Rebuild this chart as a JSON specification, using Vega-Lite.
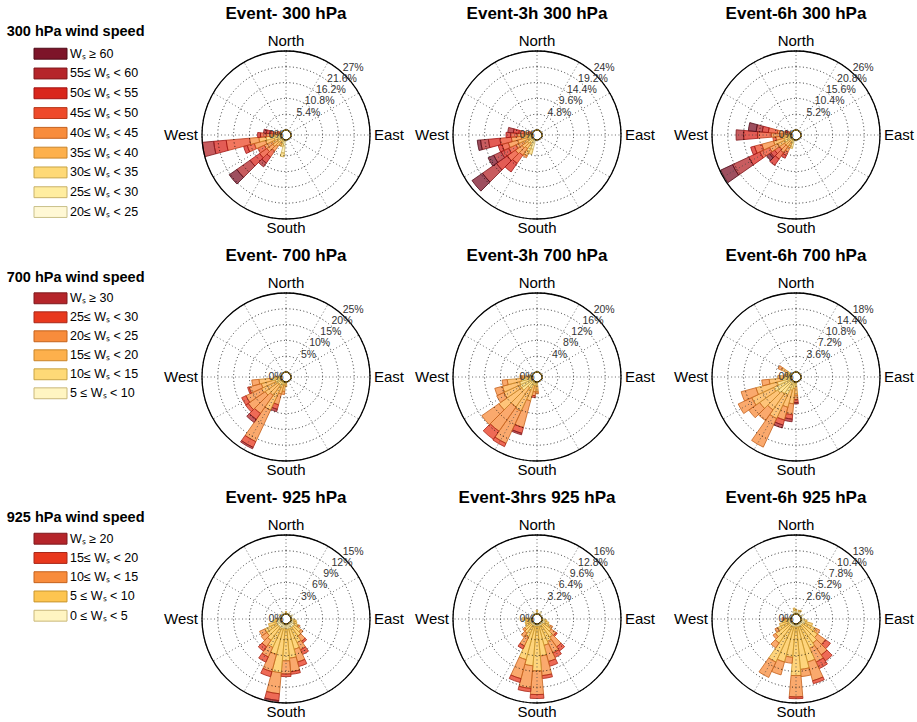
{
"$schema": "https://vega.github.io/schema/vega-lite/v6.json",
"padding": {"left": 0, "top": 5, "right": 0, "bottom": 0},
"config": {"view": {"stroke": null}, "font": "Liberation Sans", "title": {"fontSize": 17, "fontWeight": "bold", "color": "#000"}, "text": {"fill": "#000"}},
"datasets": {
"bars": [
{"p":1,"d":190,"a1":2,"a2":2.5,"a3":1.3},
{"p":1,"d":200,"a1":0.5,"a2":1,"a3":1},
{"p":1,"d":210,"a2":0.5,"a3":1,"a4":1},
{"p":1,"d":220,"a3":1,"a4":2,"a5":2,"a6":2.5,"a7":2.5,"a8":1.6},
{"p":1,"d":230,"a1":0.3,"a2":0.5,"a3":1,"a4":2,"a5":2.5,"a6":3,"a7":4,"a8":5.5,"a9":3.2},
{"p":1,"d":240,"a2":0.5,"a3":1,"a4":2,"a5":3,"a6":2.5},
{"p":1,"d":250,"a1":0.3,"a2":0.7,"a3":1.5,"a4":3,"a5":4,"a6":2.5,"a7":1.3},
{"p":1,"d":260,"a1":0.5,"a2":1.5,"a3":3.1,"a4":2.5,"a5":3.2,"a6":8,"a7":4.3,"a8":3.9},
{"p":1,"d":270,"a3":1,"a4":2,"a5":2,"a6":2,"a7":1},
{"p":1,"d":280,"a4":1,"a5":1,"a6":1.5,"a7":1.5,"a8":1},
{"p":1,"d":290,"a5":0.5,"a6":1},
{"p":2,"d":200,"a1":1,"a2":2,"a3":1.6},
{"p":2,"d":210,"a1":0.5,"a2":1.5,"a3":2,"a4":1.5,"a5":0.6},
{"p":2,"d":220,"a2":0.5,"a3":1,"a4":2,"a5":2.5,"a6":3,"a7":3.2},
{"p":2,"d":230,"a1":0.3,"a2":0.5,"a3":1.2,"a4":2,"a5":2.5,"a6":3,"a7":4,"a8":5.2,"a9":3.9},
{"p":2,"d":240,"a3":1,"a4":2,"a5":2.5,"a6":2.5,"a7":2.5,"a8":2.5,"a9":1.9},
{"p":2,"d":250,"a3":1.5,"a4":3,"a5":3,"a6":2,"a7":1.2},
{"p":2,"d":260,"a2":0.3,"a3":1,"a4":2,"a5":3,"a6":3.5,"a7":3.5,"a8":2.4,"a9":1},
{"p":2,"d":270,"a3":1,"a4":1.5,"a5":2,"a6":2,"a7":1.4},
{"p":2,"d":280,"a4":1,"a5":1.5,"a6":1.5,"a7":1.7,"a8":1.7},
{"p":2,"d":290,"a5":0.5,"a6":0.8},
{"p":3,"d":200,"a1":1,"a2":1.5,"a3":0.5},
{"p":3,"d":210,"a2":0.5,"a3":1,"a4":1.5,"a5":1.5,"a6":1.3,"a7":1},
{"p":3,"d":220,"a3":1,"a4":2,"a5":2.5,"a6":2.5,"a7":2.6},
{"p":3,"d":230,"a3":1,"a4":2,"a5":2,"a6":2,"a7":1.5,"a8":0.5,"a9":1.2},
{"p":3,"d":240,"a1":0.3,"a2":0.7,"a3":1.5,"a4":2.5,"a5":3,"a6":3.5,"a7":4,"a8":5.9,"a9":4.3},
{"p":3,"d":250,"a2":0.5,"a3":2,"a4":3.5,"a5":4,"a6":2.5,"a7":1.3},
{"p":3,"d":260,"a3":1,"a4":2,"a5":2,"a6":1},
{"p":3,"d":270,"a3":1,"a4":2,"a5":3.5,"a6":4.5,"a7":4.6,"a8":2.5},
{"p":3,"d":280,"a4":1.5,"a5":3,"a6":3,"a7":2,"a8":2,"a9":2.6},
{"p":3,"d":290,"a5":0.5,"a6":1,"a7":0.5},
{"p":4,"d":180,"b2":0.5,"b3":1},
{"p":4,"d":190,"b2":1,"b3":2,"b4":1},
{"p":4,"d":200,"b2":1,"b3":3,"b4":3.5,"b5":1.5,"b6":0.8},
{"p":4,"d":210,"b2":2,"b3":8,"b4":11,"b5":2,"b6":0.5},
{"p":4,"d":220,"b2":1.5,"b3":4,"b4":7,"b5":2.3,"b6":1.2},
{"p":4,"d":230,"b2":1.5,"b3":5,"b4":6.5,"b5":1},
{"p":4,"d":240,"b2":2,"b3":5,"b4":5.4,"b5":1.5},
{"p":4,"d":250,"b2":2,"b3":4.5,"b4":4,"b5":0.5},
{"p":4,"d":260,"b1":0.5,"b2":2.5,"b3":4,"b4":2.3},
{"p":4,"d":270,"b1":0.5,"b2":1,"b3":0.5},
{"p":5,"d":180,"b2":1,"b3":1.5,"b4":0.5},
{"p":5,"d":190,"b2":1,"b3":1.5,"b4":1,"b5":0.5},
{"p":5,"d":200,"b2":1,"b3":4,"b4":7,"b5":1.5,"b6":0.4},
{"p":5,"d":210,"b1":0.3,"b2":2,"b3":6,"b4":9,"b5":0.9},
{"p":5,"d":220,"b2":2,"b3":6,"b4":7.5,"b5":2.5},
{"p":5,"d":230,"b1":0.5,"b2":3,"b3":7,"b4":5.3},
{"p":5,"d":240,"b1":0.5,"b2":3,"b3":4.5,"b4":2},
{"p":5,"d":250,"b1":0.3,"b2":3,"b3":4.5,"b4":2},
{"p":5,"d":260,"b1":0.3,"b2":2.5,"b3":3.5,"b4":1.3},
{"p":5,"d":270,"b2":1,"b3":1.5,"b4":0.5},
{"p":5,"d":280,"b2":0.5,"b3":0.5},
{"p":6,"d":180,"b2":1,"b3":2,"b4":1,"b5":0.7,"b6":0.3},
{"p":6,"d":190,"b2":1.5,"b3":3.5,"b4":2.5,"b5":1,"b6":0.6},
{"p":6,"d":200,"b2":2,"b3":4,"b4":3,"b5":1.2,"b6":0.7},
{"p":6,"d":210,"b1":0.3,"b2":3,"b3":6,"b4":7.2},
{"p":6,"d":220,"b1":0.5,"b2":3,"b3":4.5,"b4":3},
{"p":6,"d":230,"b1":0.5,"b2":3.5,"b3":5,"b4":3},
{"p":6,"d":240,"b1":0.5,"b2":4,"b3":5.5,"b4":3.4},
{"p":6,"d":250,"b1":0.3,"b2":3,"b3":5,"b4":3.5},
{"p":6,"d":260,"b2":2,"b3":3,"b4":1.7},
{"p":6,"d":270,"b2":1.5,"b3":1.5},
{"p":6,"d":280,"b2":1,"b3":0.5},
{"p":6,"d":290,"b2":0.8,"b3":0.5},
{"p":6,"d":300,"b2":1,"b3":1.5,"b4":0.9},
{"p":7,"d":0,"c1":0.3,"c2":0.2},
{"p":7,"d":30,"c1":0.4},
{"p":7,"d":60,"c1":0.5},
{"p":7,"d":90,"c1":0.6},
{"p":7,"d":100,"c1":0.5,"c2":0.5},
{"p":7,"d":110,"c1":0.6,"c2":0.6},
{"p":7,"d":120,"c1":0.7,"c2":1,"c3":0.3},
{"p":7,"d":130,"c1":1,"c2":1.5,"c3":0.5},
{"p":7,"d":140,"c1":1,"c2":2,"c3":1.2,"c4":0.4},
{"p":7,"d":150,"c1":1,"c2":3,"c3":1.5,"c4":1},
{"p":7,"d":160,"c1":1,"c2":4,"c3":2.5,"c4":0.9},
{"p":7,"d":170,"c1":1,"c2":5.5,"c3":2.6,"c4":0.5},
{"p":7,"d":180,"c1":1,"c2":6,"c3":2.5,"c4":0.5},
{"p":7,"d":190,"c1":0.8,"c2":8.5,"c3":4,"c4":1.3,"c5":0.2},
{"p":7,"d":200,"c1":1,"c2":5,"c3":3.4,"c4":1},
{"p":7,"d":210,"c1":1,"c2":4,"c3":2,"c4":1.1},
{"p":7,"d":220,"c1":1,"c2":3,"c3":1.5,"c4":1},
{"p":7,"d":230,"c1":1,"c2":2.5,"c3":1.3},
{"p":7,"d":240,"c1":1,"c2":2.5,"c3":1.1},
{"p":7,"d":250,"c1":1,"c2":1.5},
{"p":7,"d":260,"c1":0.8,"c2":0.7},
{"p":7,"d":270,"c1":0.6,"c2":0.4},
{"p":7,"d":300,"c1":0.6},
{"p":7,"d":330,"c1":0.5},
{"p":8,"d":0,"c1":0.5,"c2":0.3},
{"p":8,"d":30,"c1":0.6},
{"p":8,"d":90,"c1":0.5},
{"p":8,"d":100,"c1":0.5,"c2":0.5},
{"p":8,"d":110,"c1":0.7,"c2":0.8},
{"p":8,"d":120,"c1":0.8,"c2":1.2,"c3":0.5},
{"p":8,"d":130,"c1":0.5,"c2":2,"c3":1.2,"c4":0.3},
{"p":8,"d":140,"c1":0.5,"c2":3,"c3":2.4,"c4":1},
{"p":8,"d":150,"c1":0.5,"c2":3.5,"c3":2.6,"c4":1},
{"p":8,"d":160,"c1":0.5,"c2":4,"c3":3.4,"c4":1},
{"p":8,"d":170,"c1":0.5,"c2":6,"c3":4,"c4":0.6},
{"p":8,"d":180,"c1":0.5,"c2":9,"c3":4.8,"c4":0.8},
{"p":8,"d":190,"c1":0.5,"c2":8,"c3":4.6,"c4":0.7},
{"p":8,"d":200,"c1":0.5,"c2":7,"c3":4,"c4":0.8},
{"p":8,"d":210,"c1":0.5,"c2":2.5,"c3":2,"c4":0.7},
{"p":8,"d":220,"c1":0.5,"c2":2,"c3":1},
{"p":8,"d":230,"c1":0.5,"c2":1.5,"c3":0.5},
{"p":8,"d":240,"c1":0.5,"c2":1},
{"p":8,"d":250,"c1":0.5,"c2":1},
{"p":8,"d":260,"c1":0.5,"c2":0.8},
{"p":8,"d":270,"c1":0.5,"c2":1.5},
{"p":8,"d":330,"c1":0.5},
{"p":9,"d":0,"c1":0.5,"c2":0.3},
{"p":9,"d":20,"c1":0.5,"c2":0.2},
{"p":9,"d":30,"c1":0.6,"c2":0.2},
{"p":9,"d":60,"c1":0.5},
{"p":9,"d":90,"c1":0.5},
{"p":9,"d":100,"c1":0.6,"c2":0.4},
{"p":9,"d":110,"c1":0.8,"c2":1.2},
{"p":9,"d":120,"c1":0.8,"c2":2,"c3":0.7},
{"p":9,"d":130,"c1":0.5,"c2":3,"c3":1.6,"c4":1},
{"p":9,"d":140,"c1":0.5,"c2":3.5,"c3":2.4,"c4":1.2},
{"p":9,"d":150,"c1":0.5,"c2":4,"c3":2.5,"c4":1.2},
{"p":9,"d":160,"c1":0.5,"c2":6,"c3":3.2,"c4":0.5},
{"p":9,"d":170,"c1":0.5,"c2":7,"c3":1.2},
{"p":9,"d":180,"c1":0.5,"c2":8,"c3":3.5,"c4":0.3},
{"p":9,"d":190,"c1":0.5,"c2":5,"c3":1},
{"p":9,"d":200,"c1":0.5,"c2":6,"c3":2.2},
{"p":9,"d":210,"c1":0.5,"c2":6.5,"c3":2.8},
{"p":9,"d":220,"c1":0.5,"c2":3.5,"c3":1},
{"p":9,"d":230,"c1":0.5,"c2":2.8,"c3":0.5},
{"p":9,"d":240,"c1":0.5,"c2":2,"c3":0.5},
{"p":9,"d":250,"c1":0.5,"c2":1.5},
{"p":9,"d":260,"c1":0.5,"c2":1},
{"p":9,"d":270,"c1":0.3,"c2":0.7,"c3":0.5},
{"p":9,"d":340,"c1":0.5},
{"p":9,"d":350,"c1":0.6,"c2":0.4}
],
"grid": [
{"p":1,"v":5.4,"t":"5.4%"},{"p":1,"v":10.8,"t":"10.8%"},{"p":1,"v":16.2,"t":"16.2%"},{"p":1,"v":21.6,"t":"21.6%"},{"p":1,"v":27,"t":"27%"},
{"p":2,"v":4.8,"t":"4.8%"},{"p":2,"v":9.6,"t":"9.6%"},{"p":2,"v":14.4,"t":"14.4%"},{"p":2,"v":19.2,"t":"19.2%"},{"p":2,"v":24,"t":"24%"},
{"p":3,"v":5.2,"t":"5.2%"},{"p":3,"v":10.4,"t":"10.4%"},{"p":3,"v":15.6,"t":"15.6%"},{"p":3,"v":20.8,"t":"20.8%"},{"p":3,"v":26,"t":"26%"},
{"p":4,"v":5,"t":"5%"},{"p":4,"v":10,"t":"10%"},{"p":4,"v":15,"t":"15%"},{"p":4,"v":20,"t":"20%"},{"p":4,"v":25,"t":"25%"},
{"p":5,"v":4,"t":"4%"},{"p":5,"v":8,"t":"8%"},{"p":5,"v":12,"t":"12%"},{"p":5,"v":16,"t":"16%"},{"p":5,"v":20,"t":"20%"},
{"p":6,"v":3.6,"t":"3.6%"},{"p":6,"v":7.2,"t":"7.2%"},{"p":6,"v":10.8,"t":"10.8%"},{"p":6,"v":14.4,"t":"14.4%"},{"p":6,"v":18,"t":"18%"},
{"p":7,"v":3,"t":"3%"},{"p":7,"v":6,"t":"6%"},{"p":7,"v":9,"t":"9%"},{"p":7,"v":12,"t":"12%"},{"p":7,"v":15,"t":"15%"},
{"p":8,"v":3.2,"t":"3.2%"},{"p":8,"v":6.4,"t":"6.4%"},{"p":8,"v":9.6,"t":"9.6%"},{"p":8,"v":12.8,"t":"12.8%"},{"p":8,"v":16,"t":"16%"},
{"p":9,"v":2.6,"t":"2.6%"},{"p":9,"v":5.2,"t":"5.2%"},{"p":9,"v":7.8,"t":"7.8%"},{"p":9,"v":10.4,"t":"10.4%"},{"p":9,"v":13,"t":"13%"}
],
"spokes": [{"g":0},{"g":60},{"g":120},{"g":180},{"g":240},{"g":300}],
"compass": [{"n":"North","d":0},{"n":"East","d":90},{"n":"South","d":180},{"n":"West","d":270}],
"leg": [
{"l":300,"k":"a9","t":"Wₛ ≥ 60"},{"l":300,"k":"a8","t":"55≤ Wₛ < 60"},{"l":300,"k":"a7","t":"50≤ Wₛ < 55"},{"l":300,"k":"a6","t":"45≤ Wₛ < 50"},{"l":300,"k":"a5","t":"40≤ Wₛ < 45"},{"l":300,"k":"a4","t":"35≤ Wₛ < 40"},{"l":300,"k":"a3","t":"30≤ Wₛ < 35"},{"l":300,"k":"a2","t":"25≤ Wₛ < 30"},{"l":300,"k":"a1","t":"20≤ Wₛ < 25"},
{"l":700,"k":"b6","t":"Wₛ ≥ 30"},{"l":700,"k":"b5","t":"25≤ Wₛ < 30"},{"l":700,"k":"b4","t":"20≤ Wₛ < 25"},{"l":700,"k":"b3","t":"15≤ Wₛ < 20"},{"l":700,"k":"b2","t":"10≤ Wₛ < 15"},{"l":700,"k":"b1","t":"5 ≤ Wₛ < 10"},
{"l":925,"k":"c5","t":"Wₛ ≥ 20"},{"l":925,"k":"c4","t":"15≤ Wₛ < 20"},{"l":925,"k":"c3","t":"10≤ Wₛ < 15"},{"l":925,"k":"c2","t":"5 ≤ Wₛ < 10"},{"l":925,"k":"c1","t":"0 ≤ Wₛ < 5"}
]
},
"columns": 4,
"spacing": {"row": 74, "column": 83},
"bounds": "flush",
"concat": [
{"width": 119, "height": 168,
 "title": {"text": "300 hPa wind speed", "anchor": "start", "dx": 6.7, "fontSize": 14.5, "offset": 7},
 "data": {"name": "leg"}, "transform": [{"filter": "datum.l == 300"}],
 "encoding": {"y": {"field": "k", "type": "ordinal", "sort": "descending", "scale": {"type": "point", "range": [2.7, 161], "padding": 0}, "axis": null}},
 "layer": [
  {"mark": {"type": "point", "shape": "M-1,-0.33H1V0.33H-1Z", "size": 1089, "filled": true, "opacity": 1, "strokeWidth": 1},
   "encoding": {"x": {"value": 50.5},
    "fill": {"field": "k", "type": "nominal", "legend": null, "scale": {"domain": ["a1","a2","a3","a4","a5","a6","a7","a8","a9","b1","b2","b3","b4","b5","b6","c1","c2","c3","c4","c5"], "range": ["#fff8d5","#ffeda0","#fed977","#fdb04c","#f88c3c","#ee4a2a","#d9261c","#b5252a","#7d1429","#fff5c2","#fed977","#fdb04c","#f88c3c","#e8381d","#b5252a","#fff5c2","#fdc550","#f88c3c","#e8381d","#b5252a"]}},
    "stroke": {"field": "k", "type": "nominal", "legend": null, "scale": {"domain": ["a1","a2","a3","a4","a5","a6","a7","a8","a9","b1","b2","b3","b4","b5","b6","c1","c2","c3","c4","c5"], "range": ["#c9c08a","#c9b26a","#c8a445","#c8852a","#c4621e","#b83a1c","#a01414","#7e1a1e","#4e0c18","#c9b87a","#c8a445","#c8852a","#c4621e","#a8281a","#7e1a1e","#c9b87a","#c8952e","#c4621e","#a8281a","#7e1a1e"]}}}},
  {"mark": {"type": "text", "align": "left", "baseline": "middle", "fontSize": 12.5, "fill": "#000"},
   "encoding": {"x": {"value": 70}, "text": {"field": "t"}}}
 ]},
{"width": 168, "height": 168, "title": {"text": "Event- 300 hPa", "frame": "group", "offset": 11},
 "layer": [
  {"data": {"name": "bars"}, "transform": [{"filter": "datum.p == 1"}, {"fold": ["a1","a2","a3","a4","a5","a6","a7","a8","a9"], "as": ["k","f"]}, {"filter": "datum.f > 0"}, {"bin": {"extent": [-5,355], "step": 10, "nice": false}, "field": "d", "as": ["d0","d1"]}, {"stack": "f", "groupby": ["d"], "sort": [{"field": "k", "order": "ascending"}], "as": ["r0","r1"]}],
   "mark": {"type": "arc", "fillOpacity": 0.75, "strokeWidth": 0.8},
   "encoding": {"theta": {"field": "d0", "type": "quantitative", "stack": null, "scale": {"domain": [0,360], "range": [0,6.283185307179586]}}, "theta2": {"field": "d1"},
    "radius": {"field": "r1", "type": "quantitative", "stack": null, "scale": {"type": "linear", "domain": [0,27], "range": [5,84], "zero": false, "nice": false}}, "radius2": {"field": "r0"},
    "fill": {"field": "k", "type": "nominal", "legend": null, "scale": {"domain": ["a1","a2","a3","a4","a5","a6","a7","a8","a9","b1","b2","b3","b4","b5","b6","c1","c2","c3","c4","c5"], "range": ["#fff8d5","#ffeda0","#fed977","#fdb04c","#f88c3c","#ee4a2a","#d9261c","#b5252a","#7d1429","#fff5c2","#fed977","#fdb04c","#f88c3c","#e8381d","#b5252a","#fff5c2","#fdc550","#f88c3c","#e8381d","#b5252a"]}},
    "stroke": {"field": "k", "type": "nominal", "legend": null, "scale": {"domain": ["a1","a2","a3","a4","a5","a6","a7","a8","a9","b1","b2","b3","b4","b5","b6","c1","c2","c3","c4","c5"], "range": ["#c9c08a","#c9b26a","#c8a445","#c8852a","#c4621e","#b83a1c","#a01414","#7e1a1e","#4e0c18","#c9b87a","#c8a445","#c8852a","#c4621e","#a8281a","#7e1a1e","#c9b87a","#c8952e","#c4621e","#a8281a","#7e1a1e"]}}}},
  {"data": {"name": "spokes"}, "transform": [{"bin": {"extent": [0,360], "step": 30, "nice": false}, "field": "g", "as": ["g0","g1"]}],
   "mark": {"type": "arc", "filled": false, "stroke": "#444", "strokeWidth": 0.8, "strokeDash": [1,2.5]},
   "encoding": {"theta": {"field": "g0", "type": "quantitative", "stack": null}, "theta2": {"field": "g1"}, "radius": {"datum": 27, "type": "quantitative"}, "radius2": {"datum": 0}}},
  {"data": {"name": "grid"}, "transform": [{"filter": "datum.p == 1"}],
   "mark": {"type": "arc", "filled": false, "stroke": "#000", "strokeWidth": 0.8, "strokeDash": [1,2.5]},
   "encoding": {"theta": {"datum": 0, "type": "quantitative"}, "theta2": {"datum": 360}, "radius": {"field": "v", "type": "quantitative", "stack": null}}},
  {"data": {"values": [{}]}, "mark": {"type": "arc", "filled": false, "stroke": "#000", "strokeWidth": 1.3},
   "encoding": {"theta": {"datum": 0, "type": "quantitative"}, "theta2": {"datum": 360}, "radius": {"datum": 27, "type": "quantitative"}}},
  {"data": {"values": [{}]}, "mark": {"type": "arc", "fill": "#fff", "stroke": "#a7801e", "strokeWidth": 1, "strokeDash": [2,1.5]},
   "encoding": {"theta": {"datum": 0, "type": "quantitative"}, "theta2": {"datum": 360}, "radius": {"datum": 0, "type": "quantitative"}}},
  {"data": {"name": "grid"}, "transform": [{"filter": "datum.p == 1"}], "mark": {"type": "text", "radiusOffset": 11, "fontSize": 10.5, "fill": "#333"},
   "encoding": {"theta": {"datum": 45, "type": "quantitative"}, "radius": {"field": "v", "type": "quantitative", "stack": null}, "text": {"field": "t"}}},
  {"data": {"values": [{}]}, "mark": {"type": "text", "radiusOffset": 5, "fontSize": 10.5, "fill": "#333"},
   "encoding": {"theta": {"datum": 270, "type": "quantitative"}, "radius": {"datum": 0, "type": "quantitative"}, "text": {"value": "0%"}}},
  {"data": {"name": "compass"}, "transform": [{"filter": "datum.d == 0"}], "mark": {"type": "text", "radiusOffset": 10, "fontSize": 15, "fill": "#000"},
   "encoding": {"theta": {"field": "d", "type": "quantitative", "stack": null}, "radius": {"datum": 27, "type": "quantitative"}, "text": {"field": "n"}}},
  {"data": {"name": "compass"}, "transform": [{"filter": "datum.d == 180"}], "mark": {"type": "text", "radiusOffset": 8.5, "fontSize": 15, "fill": "#000"},
   "encoding": {"theta": {"field": "d", "type": "quantitative", "stack": null}, "radius": {"datum": 27, "type": "quantitative"}, "text": {"field": "n"}}},
  {"data": {"name": "compass"}, "transform": [{"filter": "datum.d == 270"}], "mark": {"type": "text", "radiusOffset": 4, "align": "right", "fontSize": 15, "fill": "#000"},
   "encoding": {"theta": {"field": "d", "type": "quantitative", "stack": null}, "radius": {"datum": 27, "type": "quantitative"}, "text": {"field": "n"}}},
  {"data": {"name": "compass"}, "transform": [{"filter": "datum.d == 90"}], "mark": {"type": "text", "radiusOffset": 4, "align": "left", "fontSize": 15, "fill": "#000"},
   "encoding": {"theta": {"field": "d", "type": "quantitative", "stack": null}, "radius": {"datum": 27, "type": "quantitative"}, "text": {"field": "n"}}}
 ]},
{"width": 168, "height": 168, "title": {"text": "Event-3h 300 hPa", "frame": "group", "offset": 11},
 "layer": [
  {"data": {"name": "bars"}, "transform": [{"filter": "datum.p == 2"}, {"fold": ["a1","a2","a3","a4","a5","a6","a7","a8","a9"], "as": ["k","f"]}, {"filter": "datum.f > 0"}, {"bin": {"extent": [-5,355], "step": 10, "nice": false}, "field": "d", "as": ["d0","d1"]}, {"stack": "f", "groupby": ["d"], "sort": [{"field": "k", "order": "ascending"}], "as": ["r0","r1"]}],
   "mark": {"type": "arc", "fillOpacity": 0.75, "strokeWidth": 0.8},
   "encoding": {"theta": {"field": "d0", "type": "quantitative", "stack": null, "scale": {"domain": [0,360], "range": [0,6.283185307179586]}}, "theta2": {"field": "d1"},
    "radius": {"field": "r1", "type": "quantitative", "stack": null, "scale": {"type": "linear", "domain": [0,24], "range": [5,84], "zero": false, "nice": false}}, "radius2": {"field": "r0"},
    "fill": {"field": "k", "type": "nominal", "legend": null, "scale": {"domain": ["a1","a2","a3","a4","a5","a6","a7","a8","a9","b1","b2","b3","b4","b5","b6","c1","c2","c3","c4","c5"], "range": ["#fff8d5","#ffeda0","#fed977","#fdb04c","#f88c3c","#ee4a2a","#d9261c","#b5252a","#7d1429","#fff5c2","#fed977","#fdb04c","#f88c3c","#e8381d","#b5252a","#fff5c2","#fdc550","#f88c3c","#e8381d","#b5252a"]}},
    "stroke": {"field": "k", "type": "nominal", "legend": null, "scale": {"domain": ["a1","a2","a3","a4","a5","a6","a7","a8","a9","b1","b2","b3","b4","b5","b6","c1","c2","c3","c4","c5"], "range": ["#c9c08a","#c9b26a","#c8a445","#c8852a","#c4621e","#b83a1c","#a01414","#7e1a1e","#4e0c18","#c9b87a","#c8a445","#c8852a","#c4621e","#a8281a","#7e1a1e","#c9b87a","#c8952e","#c4621e","#a8281a","#7e1a1e"]}}}},
  {"data": {"name": "spokes"}, "transform": [{"bin": {"extent": [0,360], "step": 30, "nice": false}, "field": "g", "as": ["g0","g1"]}],
   "mark": {"type": "arc", "filled": false, "stroke": "#444", "strokeWidth": 0.8, "strokeDash": [1,2.5]},
   "encoding": {"theta": {"field": "g0", "type": "quantitative", "stack": null}, "theta2": {"field": "g1"}, "radius": {"datum": 24, "type": "quantitative"}, "radius2": {"datum": 0}}},
  {"data": {"name": "grid"}, "transform": [{"filter": "datum.p == 2"}],
   "mark": {"type": "arc", "filled": false, "stroke": "#000", "strokeWidth": 0.8, "strokeDash": [1,2.5]},
   "encoding": {"theta": {"datum": 0, "type": "quantitative"}, "theta2": {"datum": 360}, "radius": {"field": "v", "type": "quantitative", "stack": null}}},
  {"data": {"values": [{}]}, "mark": {"type": "arc", "filled": false, "stroke": "#000", "strokeWidth": 1.3},
   "encoding": {"theta": {"datum": 0, "type": "quantitative"}, "theta2": {"datum": 360}, "radius": {"datum": 24, "type": "quantitative"}}},
  {"data": {"values": [{}]}, "mark": {"type": "arc", "fill": "#fff", "stroke": "#a7801e", "strokeWidth": 1, "strokeDash": [2,1.5]},
   "encoding": {"theta": {"datum": 0, "type": "quantitative"}, "theta2": {"datum": 360}, "radius": {"datum": 0, "type": "quantitative"}}},
  {"data": {"name": "grid"}, "transform": [{"filter": "datum.p == 2"}], "mark": {"type": "text", "radiusOffset": 11, "fontSize": 10.5, "fill": "#333"},
   "encoding": {"theta": {"datum": 45, "type": "quantitative"}, "radius": {"field": "v", "type": "quantitative", "stack": null}, "text": {"field": "t"}}},
  {"data": {"values": [{}]}, "mark": {"type": "text", "radiusOffset": 5, "fontSize": 10.5, "fill": "#333"},
   "encoding": {"theta": {"datum": 270, "type": "quantitative"}, "radius": {"datum": 0, "type": "quantitative"}, "text": {"value": "0%"}}},
  {"data": {"name": "compass"}, "transform": [{"filter": "datum.d == 0"}], "mark": {"type": "text", "radiusOffset": 10, "fontSize": 15, "fill": "#000"},
   "encoding": {"theta": {"field": "d", "type": "quantitative", "stack": null}, "radius": {"datum": 24, "type": "quantitative"}, "text": {"field": "n"}}},
  {"data": {"name": "compass"}, "transform": [{"filter": "datum.d == 180"}], "mark": {"type": "text", "radiusOffset": 8.5, "fontSize": 15, "fill": "#000"},
   "encoding": {"theta": {"field": "d", "type": "quantitative", "stack": null}, "radius": {"datum": 24, "type": "quantitative"}, "text": {"field": "n"}}},
  {"data": {"name": "compass"}, "transform": [{"filter": "datum.d == 270"}], "mark": {"type": "text", "radiusOffset": 4, "align": "right", "fontSize": 15, "fill": "#000"},
   "encoding": {"theta": {"field": "d", "type": "quantitative", "stack": null}, "radius": {"datum": 24, "type": "quantitative"}, "text": {"field": "n"}}},
  {"data": {"name": "compass"}, "transform": [{"filter": "datum.d == 90"}], "mark": {"type": "text", "radiusOffset": 4, "align": "left", "fontSize": 15, "fill": "#000"},
   "encoding": {"theta": {"field": "d", "type": "quantitative", "stack": null}, "radius": {"datum": 24, "type": "quantitative"}, "text": {"field": "n"}}}
 ]},
{"width": 184, "height": 168, "title": {"text": "Event-6h 300 hPa", "frame": "group", "offset": 11},
 "layer": [
  {"data": {"name": "bars"}, "transform": [{"filter": "datum.p == 3"}, {"fold": ["a1","a2","a3","a4","a5","a6","a7","a8","a9"], "as": ["k","f"]}, {"filter": "datum.f > 0"}, {"bin": {"extent": [-5,355], "step": 10, "nice": false}, "field": "d", "as": ["d0","d1"]}, {"stack": "f", "groupby": ["d"], "sort": [{"field": "k", "order": "ascending"}], "as": ["r0","r1"]}],
   "mark": {"type": "arc", "fillOpacity": 0.75, "strokeWidth": 0.8},
   "encoding": {"theta": {"field": "d0", "type": "quantitative", "stack": null, "scale": {"domain": [0,360], "range": [0,6.283185307179586]}}, "theta2": {"field": "d1"},
    "radius": {"field": "r1", "type": "quantitative", "stack": null, "scale": {"type": "linear", "domain": [0,26], "range": [5,84], "zero": false, "nice": false}}, "radius2": {"field": "r0"},
    "fill": {"field": "k", "type": "nominal", "legend": null, "scale": {"domain": ["a1","a2","a3","a4","a5","a6","a7","a8","a9","b1","b2","b3","b4","b5","b6","c1","c2","c3","c4","c5"], "range": ["#fff8d5","#ffeda0","#fed977","#fdb04c","#f88c3c","#ee4a2a","#d9261c","#b5252a","#7d1429","#fff5c2","#fed977","#fdb04c","#f88c3c","#e8381d","#b5252a","#fff5c2","#fdc550","#f88c3c","#e8381d","#b5252a"]}},
    "stroke": {"field": "k", "type": "nominal", "legend": null, "scale": {"domain": ["a1","a2","a3","a4","a5","a6","a7","a8","a9","b1","b2","b3","b4","b5","b6","c1","c2","c3","c4","c5"], "range": ["#c9c08a","#c9b26a","#c8a445","#c8852a","#c4621e","#b83a1c","#a01414","#7e1a1e","#4e0c18","#c9b87a","#c8a445","#c8852a","#c4621e","#a8281a","#7e1a1e","#c9b87a","#c8952e","#c4621e","#a8281a","#7e1a1e"]}}}},
  {"data": {"name": "spokes"}, "transform": [{"bin": {"extent": [0,360], "step": 30, "nice": false}, "field": "g", "as": ["g0","g1"]}],
   "mark": {"type": "arc", "filled": false, "stroke": "#444", "strokeWidth": 0.8, "strokeDash": [1,2.5]},
   "encoding": {"theta": {"field": "g0", "type": "quantitative", "stack": null}, "theta2": {"field": "g1"}, "radius": {"datum": 26, "type": "quantitative"}, "radius2": {"datum": 0}}},
  {"data": {"name": "grid"}, "transform": [{"filter": "datum.p == 3"}],
   "mark": {"type": "arc", "filled": false, "stroke": "#000", "strokeWidth": 0.8, "strokeDash": [1,2.5]},
   "encoding": {"theta": {"datum": 0, "type": "quantitative"}, "theta2": {"datum": 360}, "radius": {"field": "v", "type": "quantitative", "stack": null}}},
  {"data": {"values": [{}]}, "mark": {"type": "arc", "filled": false, "stroke": "#000", "strokeWidth": 1.3},
   "encoding": {"theta": {"datum": 0, "type": "quantitative"}, "theta2": {"datum": 360}, "radius": {"datum": 26, "type": "quantitative"}}},
  {"data": {"values": [{}]}, "mark": {"type": "arc", "fill": "#fff", "stroke": "#a7801e", "strokeWidth": 1, "strokeDash": [2,1.5]},
   "encoding": {"theta": {"datum": 0, "type": "quantitative"}, "theta2": {"datum": 360}, "radius": {"datum": 0, "type": "quantitative"}}},
  {"data": {"name": "grid"}, "transform": [{"filter": "datum.p == 3"}], "mark": {"type": "text", "radiusOffset": 11, "fontSize": 10.5, "fill": "#333"},
   "encoding": {"theta": {"datum": 45, "type": "quantitative"}, "radius": {"field": "v", "type": "quantitative", "stack": null}, "text": {"field": "t"}}},
  {"data": {"values": [{}]}, "mark": {"type": "text", "radiusOffset": 5, "fontSize": 10.5, "fill": "#333"},
   "encoding": {"theta": {"datum": 270, "type": "quantitative"}, "radius": {"datum": 0, "type": "quantitative"}, "text": {"value": "0%"}}},
  {"data": {"name": "compass"}, "transform": [{"filter": "datum.d == 0"}], "mark": {"type": "text", "radiusOffset": 10, "fontSize": 15, "fill": "#000"},
   "encoding": {"theta": {"field": "d", "type": "quantitative", "stack": null}, "radius": {"datum": 26, "type": "quantitative"}, "text": {"field": "n"}}},
  {"data": {"name": "compass"}, "transform": [{"filter": "datum.d == 180"}], "mark": {"type": "text", "radiusOffset": 8.5, "fontSize": 15, "fill": "#000"},
   "encoding": {"theta": {"field": "d", "type": "quantitative", "stack": null}, "radius": {"datum": 26, "type": "quantitative"}, "text": {"field": "n"}}},
  {"data": {"name": "compass"}, "transform": [{"filter": "datum.d == 270"}], "mark": {"type": "text", "radiusOffset": 4, "align": "right", "fontSize": 15, "fill": "#000"},
   "encoding": {"theta": {"field": "d", "type": "quantitative", "stack": null}, "radius": {"datum": 26, "type": "quantitative"}, "text": {"field": "n"}}},
  {"data": {"name": "compass"}, "transform": [{"filter": "datum.d == 90"}], "mark": {"type": "text", "radiusOffset": 4, "align": "left", "fontSize": 15, "fill": "#000"},
   "encoding": {"theta": {"field": "d", "type": "quantitative", "stack": null}, "radius": {"datum": 26, "type": "quantitative"}, "text": {"field": "n"}}}
 ]},
{"width": 119, "height": 168,
 "title": {"text": "700 hPa wind speed", "anchor": "start", "dx": 6.7, "fontSize": 14.5, "offset": 5.75},
 "data": {"name": "leg"}, "transform": [{"filter": "datum.l == 700"}],
 "encoding": {"y": {"field": "k", "type": "ordinal", "sort": "descending", "scale": {"type": "point", "range": [5.3, 100.3], "padding": 0}, "axis": null}},
 "layer": [
  {"mark": {"type": "point", "shape": "M-1,-0.33H1V0.33H-1Z", "size": 1089, "filled": true, "opacity": 1, "strokeWidth": 1},
   "encoding": {"x": {"value": 50.5},
    "fill": {"field": "k", "type": "nominal", "legend": null, "scale": {"domain": ["a1","a2","a3","a4","a5","a6","a7","a8","a9","b1","b2","b3","b4","b5","b6","c1","c2","c3","c4","c5"], "range": ["#fff8d5","#ffeda0","#fed977","#fdb04c","#f88c3c","#ee4a2a","#d9261c","#b5252a","#7d1429","#fff5c2","#fed977","#fdb04c","#f88c3c","#e8381d","#b5252a","#fff5c2","#fdc550","#f88c3c","#e8381d","#b5252a"]}},
    "stroke": {"field": "k", "type": "nominal", "legend": null, "scale": {"domain": ["a1","a2","a3","a4","a5","a6","a7","a8","a9","b1","b2","b3","b4","b5","b6","c1","c2","c3","c4","c5"], "range": ["#c9c08a","#c9b26a","#c8a445","#c8852a","#c4621e","#b83a1c","#a01414","#7e1a1e","#4e0c18","#c9b87a","#c8a445","#c8852a","#c4621e","#a8281a","#7e1a1e","#c9b87a","#c8952e","#c4621e","#a8281a","#7e1a1e"]}}}},
  {"mark": {"type": "text", "align": "left", "baseline": "middle", "fontSize": 12.5, "fill": "#000"},
   "encoding": {"x": {"value": 70}, "text": {"field": "t"}}}
 ]},
{"width": 168, "height": 168, "title": {"text": "Event- 700 hPa", "frame": "group", "offset": 11},
 "layer": [
  {"data": {"name": "bars"}, "transform": [{"filter": "datum.p == 4"}, {"fold": ["b1","b2","b3","b4","b5","b6"], "as": ["k","f"]}, {"filter": "datum.f > 0"}, {"bin": {"extent": [-5,355], "step": 10, "nice": false}, "field": "d", "as": ["d0","d1"]}, {"stack": "f", "groupby": ["d"], "sort": [{"field": "k", "order": "ascending"}], "as": ["r0","r1"]}],
   "mark": {"type": "arc", "fillOpacity": 0.75, "strokeWidth": 0.8},
   "encoding": {"theta": {"field": "d0", "type": "quantitative", "stack": null, "scale": {"domain": [0,360], "range": [0,6.283185307179586]}}, "theta2": {"field": "d1"},
    "radius": {"field": "r1", "type": "quantitative", "stack": null, "scale": {"type": "linear", "domain": [0,25], "range": [5,84], "zero": false, "nice": false}}, "radius2": {"field": "r0"},
    "fill": {"field": "k", "type": "nominal", "legend": null, "scale": {"domain": ["a1","a2","a3","a4","a5","a6","a7","a8","a9","b1","b2","b3","b4","b5","b6","c1","c2","c3","c4","c5"], "range": ["#fff8d5","#ffeda0","#fed977","#fdb04c","#f88c3c","#ee4a2a","#d9261c","#b5252a","#7d1429","#fff5c2","#fed977","#fdb04c","#f88c3c","#e8381d","#b5252a","#fff5c2","#fdc550","#f88c3c","#e8381d","#b5252a"]}},
    "stroke": {"field": "k", "type": "nominal", "legend": null, "scale": {"domain": ["a1","a2","a3","a4","a5","a6","a7","a8","a9","b1","b2","b3","b4","b5","b6","c1","c2","c3","c4","c5"], "range": ["#c9c08a","#c9b26a","#c8a445","#c8852a","#c4621e","#b83a1c","#a01414","#7e1a1e","#4e0c18","#c9b87a","#c8a445","#c8852a","#c4621e","#a8281a","#7e1a1e","#c9b87a","#c8952e","#c4621e","#a8281a","#7e1a1e"]}}}},
  {"data": {"name": "spokes"}, "transform": [{"bin": {"extent": [0,360], "step": 30, "nice": false}, "field": "g", "as": ["g0","g1"]}],
   "mark": {"type": "arc", "filled": false, "stroke": "#444", "strokeWidth": 0.8, "strokeDash": [1,2.5]},
   "encoding": {"theta": {"field": "g0", "type": "quantitative", "stack": null}, "theta2": {"field": "g1"}, "radius": {"datum": 25, "type": "quantitative"}, "radius2": {"datum": 0}}},
  {"data": {"name": "grid"}, "transform": [{"filter": "datum.p == 4"}],
   "mark": {"type": "arc", "filled": false, "stroke": "#000", "strokeWidth": 0.8, "strokeDash": [1,2.5]},
   "encoding": {"theta": {"datum": 0, "type": "quantitative"}, "theta2": {"datum": 360}, "radius": {"field": "v", "type": "quantitative", "stack": null}}},
  {"data": {"values": [{}]}, "mark": {"type": "arc", "filled": false, "stroke": "#000", "strokeWidth": 1.3},
   "encoding": {"theta": {"datum": 0, "type": "quantitative"}, "theta2": {"datum": 360}, "radius": {"datum": 25, "type": "quantitative"}}},
  {"data": {"values": [{}]}, "mark": {"type": "arc", "fill": "#fff", "stroke": "#a7801e", "strokeWidth": 1, "strokeDash": [2,1.5]},
   "encoding": {"theta": {"datum": 0, "type": "quantitative"}, "theta2": {"datum": 360}, "radius": {"datum": 0, "type": "quantitative"}}},
  {"data": {"name": "grid"}, "transform": [{"filter": "datum.p == 4"}], "mark": {"type": "text", "radiusOffset": 11, "fontSize": 10.5, "fill": "#333"},
   "encoding": {"theta": {"datum": 45, "type": "quantitative"}, "radius": {"field": "v", "type": "quantitative", "stack": null}, "text": {"field": "t"}}},
  {"data": {"values": [{}]}, "mark": {"type": "text", "radiusOffset": 5, "fontSize": 10.5, "fill": "#333"},
   "encoding": {"theta": {"datum": 270, "type": "quantitative"}, "radius": {"datum": 0, "type": "quantitative"}, "text": {"value": "0%"}}},
  {"data": {"name": "compass"}, "transform": [{"filter": "datum.d == 0"}], "mark": {"type": "text", "radiusOffset": 10, "fontSize": 15, "fill": "#000"},
   "encoding": {"theta": {"field": "d", "type": "quantitative", "stack": null}, "radius": {"datum": 25, "type": "quantitative"}, "text": {"field": "n"}}},
  {"data": {"name": "compass"}, "transform": [{"filter": "datum.d == 180"}], "mark": {"type": "text", "radiusOffset": 8.5, "fontSize": 15, "fill": "#000"},
   "encoding": {"theta": {"field": "d", "type": "quantitative", "stack": null}, "radius": {"datum": 25, "type": "quantitative"}, "text": {"field": "n"}}},
  {"data": {"name": "compass"}, "transform": [{"filter": "datum.d == 270"}], "mark": {"type": "text", "radiusOffset": 4, "align": "right", "fontSize": 15, "fill": "#000"},
   "encoding": {"theta": {"field": "d", "type": "quantitative", "stack": null}, "radius": {"datum": 25, "type": "quantitative"}, "text": {"field": "n"}}},
  {"data": {"name": "compass"}, "transform": [{"filter": "datum.d == 90"}], "mark": {"type": "text", "radiusOffset": 4, "align": "left", "fontSize": 15, "fill": "#000"},
   "encoding": {"theta": {"field": "d", "type": "quantitative", "stack": null}, "radius": {"datum": 25, "type": "quantitative"}, "text": {"field": "n"}}}
 ]},
{"width": 168, "height": 168, "title": {"text": "Event-3h 700 hPa", "frame": "group", "offset": 11},
 "layer": [
  {"data": {"name": "bars"}, "transform": [{"filter": "datum.p == 5"}, {"fold": ["b1","b2","b3","b4","b5","b6"], "as": ["k","f"]}, {"filter": "datum.f > 0"}, {"bin": {"extent": [-5,355], "step": 10, "nice": false}, "field": "d", "as": ["d0","d1"]}, {"stack": "f", "groupby": ["d"], "sort": [{"field": "k", "order": "ascending"}], "as": ["r0","r1"]}],
   "mark": {"type": "arc", "fillOpacity": 0.75, "strokeWidth": 0.8},
   "encoding": {"theta": {"field": "d0", "type": "quantitative", "stack": null, "scale": {"domain": [0,360], "range": [0,6.283185307179586]}}, "theta2": {"field": "d1"},
    "radius": {"field": "r1", "type": "quantitative", "stack": null, "scale": {"type": "linear", "domain": [0,20], "range": [5,84], "zero": false, "nice": false}}, "radius2": {"field": "r0"},
    "fill": {"field": "k", "type": "nominal", "legend": null, "scale": {"domain": ["a1","a2","a3","a4","a5","a6","a7","a8","a9","b1","b2","b3","b4","b5","b6","c1","c2","c3","c4","c5"], "range": ["#fff8d5","#ffeda0","#fed977","#fdb04c","#f88c3c","#ee4a2a","#d9261c","#b5252a","#7d1429","#fff5c2","#fed977","#fdb04c","#f88c3c","#e8381d","#b5252a","#fff5c2","#fdc550","#f88c3c","#e8381d","#b5252a"]}},
    "stroke": {"field": "k", "type": "nominal", "legend": null, "scale": {"domain": ["a1","a2","a3","a4","a5","a6","a7","a8","a9","b1","b2","b3","b4","b5","b6","c1","c2","c3","c4","c5"], "range": ["#c9c08a","#c9b26a","#c8a445","#c8852a","#c4621e","#b83a1c","#a01414","#7e1a1e","#4e0c18","#c9b87a","#c8a445","#c8852a","#c4621e","#a8281a","#7e1a1e","#c9b87a","#c8952e","#c4621e","#a8281a","#7e1a1e"]}}}},
  {"data": {"name": "spokes"}, "transform": [{"bin": {"extent": [0,360], "step": 30, "nice": false}, "field": "g", "as": ["g0","g1"]}],
   "mark": {"type": "arc", "filled": false, "stroke": "#444", "strokeWidth": 0.8, "strokeDash": [1,2.5]},
   "encoding": {"theta": {"field": "g0", "type": "quantitative", "stack": null}, "theta2": {"field": "g1"}, "radius": {"datum": 20, "type": "quantitative"}, "radius2": {"datum": 0}}},
  {"data": {"name": "grid"}, "transform": [{"filter": "datum.p == 5"}],
   "mark": {"type": "arc", "filled": false, "stroke": "#000", "strokeWidth": 0.8, "strokeDash": [1,2.5]},
   "encoding": {"theta": {"datum": 0, "type": "quantitative"}, "theta2": {"datum": 360}, "radius": {"field": "v", "type": "quantitative", "stack": null}}},
  {"data": {"values": [{}]}, "mark": {"type": "arc", "filled": false, "stroke": "#000", "strokeWidth": 1.3},
   "encoding": {"theta": {"datum": 0, "type": "quantitative"}, "theta2": {"datum": 360}, "radius": {"datum": 20, "type": "quantitative"}}},
  {"data": {"values": [{}]}, "mark": {"type": "arc", "fill": "#fff", "stroke": "#a7801e", "strokeWidth": 1, "strokeDash": [2,1.5]},
   "encoding": {"theta": {"datum": 0, "type": "quantitative"}, "theta2": {"datum": 360}, "radius": {"datum": 0, "type": "quantitative"}}},
  {"data": {"name": "grid"}, "transform": [{"filter": "datum.p == 5"}], "mark": {"type": "text", "radiusOffset": 11, "fontSize": 10.5, "fill": "#333"},
   "encoding": {"theta": {"datum": 45, "type": "quantitative"}, "radius": {"field": "v", "type": "quantitative", "stack": null}, "text": {"field": "t"}}},
  {"data": {"values": [{}]}, "mark": {"type": "text", "radiusOffset": 5, "fontSize": 10.5, "fill": "#333"},
   "encoding": {"theta": {"datum": 270, "type": "quantitative"}, "radius": {"datum": 0, "type": "quantitative"}, "text": {"value": "0%"}}},
  {"data": {"name": "compass"}, "transform": [{"filter": "datum.d == 0"}], "mark": {"type": "text", "radiusOffset": 10, "fontSize": 15, "fill": "#000"},
   "encoding": {"theta": {"field": "d", "type": "quantitative", "stack": null}, "radius": {"datum": 20, "type": "quantitative"}, "text": {"field": "n"}}},
  {"data": {"name": "compass"}, "transform": [{"filter": "datum.d == 180"}], "mark": {"type": "text", "radiusOffset": 8.5, "fontSize": 15, "fill": "#000"},
   "encoding": {"theta": {"field": "d", "type": "quantitative", "stack": null}, "radius": {"datum": 20, "type": "quantitative"}, "text": {"field": "n"}}},
  {"data": {"name": "compass"}, "transform": [{"filter": "datum.d == 270"}], "mark": {"type": "text", "radiusOffset": 4, "align": "right", "fontSize": 15, "fill": "#000"},
   "encoding": {"theta": {"field": "d", "type": "quantitative", "stack": null}, "radius": {"datum": 20, "type": "quantitative"}, "text": {"field": "n"}}},
  {"data": {"name": "compass"}, "transform": [{"filter": "datum.d == 90"}], "mark": {"type": "text", "radiusOffset": 4, "align": "left", "fontSize": 15, "fill": "#000"},
   "encoding": {"theta": {"field": "d", "type": "quantitative", "stack": null}, "radius": {"datum": 20, "type": "quantitative"}, "text": {"field": "n"}}}
 ]},
{"width": 184, "height": 168, "title": {"text": "Event-6h 700 hPa", "frame": "group", "offset": 11},
 "layer": [
  {"data": {"name": "bars"}, "transform": [{"filter": "datum.p == 6"}, {"fold": ["b1","b2","b3","b4","b5","b6"], "as": ["k","f"]}, {"filter": "datum.f > 0"}, {"bin": {"extent": [-5,355], "step": 10, "nice": false}, "field": "d", "as": ["d0","d1"]}, {"stack": "f", "groupby": ["d"], "sort": [{"field": "k", "order": "ascending"}], "as": ["r0","r1"]}],
   "mark": {"type": "arc", "fillOpacity": 0.75, "strokeWidth": 0.8},
   "encoding": {"theta": {"field": "d0", "type": "quantitative", "stack": null, "scale": {"domain": [0,360], "range": [0,6.283185307179586]}}, "theta2": {"field": "d1"},
    "radius": {"field": "r1", "type": "quantitative", "stack": null, "scale": {"type": "linear", "domain": [0,18], "range": [5,84], "zero": false, "nice": false}}, "radius2": {"field": "r0"},
    "fill": {"field": "k", "type": "nominal", "legend": null, "scale": {"domain": ["a1","a2","a3","a4","a5","a6","a7","a8","a9","b1","b2","b3","b4","b5","b6","c1","c2","c3","c4","c5"], "range": ["#fff8d5","#ffeda0","#fed977","#fdb04c","#f88c3c","#ee4a2a","#d9261c","#b5252a","#7d1429","#fff5c2","#fed977","#fdb04c","#f88c3c","#e8381d","#b5252a","#fff5c2","#fdc550","#f88c3c","#e8381d","#b5252a"]}},
    "stroke": {"field": "k", "type": "nominal", "legend": null, "scale": {"domain": ["a1","a2","a3","a4","a5","a6","a7","a8","a9","b1","b2","b3","b4","b5","b6","c1","c2","c3","c4","c5"], "range": ["#c9c08a","#c9b26a","#c8a445","#c8852a","#c4621e","#b83a1c","#a01414","#7e1a1e","#4e0c18","#c9b87a","#c8a445","#c8852a","#c4621e","#a8281a","#7e1a1e","#c9b87a","#c8952e","#c4621e","#a8281a","#7e1a1e"]}}}},
  {"data": {"name": "spokes"}, "transform": [{"bin": {"extent": [0,360], "step": 30, "nice": false}, "field": "g", "as": ["g0","g1"]}],
   "mark": {"type": "arc", "filled": false, "stroke": "#444", "strokeWidth": 0.8, "strokeDash": [1,2.5]},
   "encoding": {"theta": {"field": "g0", "type": "quantitative", "stack": null}, "theta2": {"field": "g1"}, "radius": {"datum": 18, "type": "quantitative"}, "radius2": {"datum": 0}}},
  {"data": {"name": "grid"}, "transform": [{"filter": "datum.p == 6"}],
   "mark": {"type": "arc", "filled": false, "stroke": "#000", "strokeWidth": 0.8, "strokeDash": [1,2.5]},
   "encoding": {"theta": {"datum": 0, "type": "quantitative"}, "theta2": {"datum": 360}, "radius": {"field": "v", "type": "quantitative", "stack": null}}},
  {"data": {"values": [{}]}, "mark": {"type": "arc", "filled": false, "stroke": "#000", "strokeWidth": 1.3},
   "encoding": {"theta": {"datum": 0, "type": "quantitative"}, "theta2": {"datum": 360}, "radius": {"datum": 18, "type": "quantitative"}}},
  {"data": {"values": [{}]}, "mark": {"type": "arc", "fill": "#fff", "stroke": "#a7801e", "strokeWidth": 1, "strokeDash": [2,1.5]},
   "encoding": {"theta": {"datum": 0, "type": "quantitative"}, "theta2": {"datum": 360}, "radius": {"datum": 0, "type": "quantitative"}}},
  {"data": {"name": "grid"}, "transform": [{"filter": "datum.p == 6"}], "mark": {"type": "text", "radiusOffset": 11, "fontSize": 10.5, "fill": "#333"},
   "encoding": {"theta": {"datum": 45, "type": "quantitative"}, "radius": {"field": "v", "type": "quantitative", "stack": null}, "text": {"field": "t"}}},
  {"data": {"values": [{}]}, "mark": {"type": "text", "radiusOffset": 5, "fontSize": 10.5, "fill": "#333"},
   "encoding": {"theta": {"datum": 270, "type": "quantitative"}, "radius": {"datum": 0, "type": "quantitative"}, "text": {"value": "0%"}}},
  {"data": {"name": "compass"}, "transform": [{"filter": "datum.d == 0"}], "mark": {"type": "text", "radiusOffset": 10, "fontSize": 15, "fill": "#000"},
   "encoding": {"theta": {"field": "d", "type": "quantitative", "stack": null}, "radius": {"datum": 18, "type": "quantitative"}, "text": {"field": "n"}}},
  {"data": {"name": "compass"}, "transform": [{"filter": "datum.d == 180"}], "mark": {"type": "text", "radiusOffset": 8.5, "fontSize": 15, "fill": "#000"},
   "encoding": {"theta": {"field": "d", "type": "quantitative", "stack": null}, "radius": {"datum": 18, "type": "quantitative"}, "text": {"field": "n"}}},
  {"data": {"name": "compass"}, "transform": [{"filter": "datum.d == 270"}], "mark": {"type": "text", "radiusOffset": 4, "align": "right", "fontSize": 15, "fill": "#000"},
   "encoding": {"theta": {"field": "d", "type": "quantitative", "stack": null}, "radius": {"datum": 18, "type": "quantitative"}, "text": {"field": "n"}}},
  {"data": {"name": "compass"}, "transform": [{"filter": "datum.d == 90"}], "mark": {"type": "text", "radiusOffset": 4, "align": "left", "fontSize": 15, "fill": "#000"},
   "encoding": {"theta": {"field": "d", "type": "quantitative", "stack": null}, "radius": {"datum": 18, "type": "quantitative"}, "text": {"field": "n"}}}
 ]},
{"width": 119, "height": 168,
 "title": {"text": "925 hPa wind speed", "anchor": "start", "dx": 6.7, "fontSize": 14.5, "offset": 6.2},
 "data": {"name": "leg"}, "transform": [{"filter": "datum.l == 925"}],
 "encoding": {"y": {"field": "k", "type": "ordinal", "sort": "descending", "scale": {"type": "point", "range": [3.7, 80.7], "padding": 0}, "axis": null}},
 "layer": [
  {"mark": {"type": "point", "shape": "M-1,-0.33H1V0.33H-1Z", "size": 1089, "filled": true, "opacity": 1, "strokeWidth": 1},
   "encoding": {"x": {"value": 50.5},
    "fill": {"field": "k", "type": "nominal", "legend": null, "scale": {"domain": ["a1","a2","a3","a4","a5","a6","a7","a8","a9","b1","b2","b3","b4","b5","b6","c1","c2","c3","c4","c5"], "range": ["#fff8d5","#ffeda0","#fed977","#fdb04c","#f88c3c","#ee4a2a","#d9261c","#b5252a","#7d1429","#fff5c2","#fed977","#fdb04c","#f88c3c","#e8381d","#b5252a","#fff5c2","#fdc550","#f88c3c","#e8381d","#b5252a"]}},
    "stroke": {"field": "k", "type": "nominal", "legend": null, "scale": {"domain": ["a1","a2","a3","a4","a5","a6","a7","a8","a9","b1","b2","b3","b4","b5","b6","c1","c2","c3","c4","c5"], "range": ["#c9c08a","#c9b26a","#c8a445","#c8852a","#c4621e","#b83a1c","#a01414","#7e1a1e","#4e0c18","#c9b87a","#c8a445","#c8852a","#c4621e","#a8281a","#7e1a1e","#c9b87a","#c8952e","#c4621e","#a8281a","#7e1a1e"]}}}},
  {"mark": {"type": "text", "align": "left", "baseline": "middle", "fontSize": 12.5, "fill": "#000"},
   "encoding": {"x": {"value": 70}, "text": {"field": "t"}}}
 ]},
{"width": 168, "height": 168, "title": {"text": "Event- 925 hPa", "frame": "group", "offset": 11},
 "layer": [
  {"data": {"name": "bars"}, "transform": [{"filter": "datum.p == 7"}, {"fold": ["c1","c2","c3","c4","c5"], "as": ["k","f"]}, {"filter": "datum.f > 0"}, {"bin": {"extent": [-5,355], "step": 10, "nice": false}, "field": "d", "as": ["d0","d1"]}, {"stack": "f", "groupby": ["d"], "sort": [{"field": "k", "order": "ascending"}], "as": ["r0","r1"]}],
   "mark": {"type": "arc", "fillOpacity": 0.75, "strokeWidth": 0.8},
   "encoding": {"theta": {"field": "d0", "type": "quantitative", "stack": null, "scale": {"domain": [0,360], "range": [0,6.283185307179586]}}, "theta2": {"field": "d1"},
    "radius": {"field": "r1", "type": "quantitative", "stack": null, "scale": {"type": "linear", "domain": [0,15], "range": [5,84], "zero": false, "nice": false}}, "radius2": {"field": "r0"},
    "fill": {"field": "k", "type": "nominal", "legend": null, "scale": {"domain": ["a1","a2","a3","a4","a5","a6","a7","a8","a9","b1","b2","b3","b4","b5","b6","c1","c2","c3","c4","c5"], "range": ["#fff8d5","#ffeda0","#fed977","#fdb04c","#f88c3c","#ee4a2a","#d9261c","#b5252a","#7d1429","#fff5c2","#fed977","#fdb04c","#f88c3c","#e8381d","#b5252a","#fff5c2","#fdc550","#f88c3c","#e8381d","#b5252a"]}},
    "stroke": {"field": "k", "type": "nominal", "legend": null, "scale": {"domain": ["a1","a2","a3","a4","a5","a6","a7","a8","a9","b1","b2","b3","b4","b5","b6","c1","c2","c3","c4","c5"], "range": ["#c9c08a","#c9b26a","#c8a445","#c8852a","#c4621e","#b83a1c","#a01414","#7e1a1e","#4e0c18","#c9b87a","#c8a445","#c8852a","#c4621e","#a8281a","#7e1a1e","#c9b87a","#c8952e","#c4621e","#a8281a","#7e1a1e"]}}}},
  {"data": {"name": "spokes"}, "transform": [{"bin": {"extent": [0,360], "step": 30, "nice": false}, "field": "g", "as": ["g0","g1"]}],
   "mark": {"type": "arc", "filled": false, "stroke": "#444", "strokeWidth": 0.8, "strokeDash": [1,2.5]},
   "encoding": {"theta": {"field": "g0", "type": "quantitative", "stack": null}, "theta2": {"field": "g1"}, "radius": {"datum": 15, "type": "quantitative"}, "radius2": {"datum": 0}}},
  {"data": {"name": "grid"}, "transform": [{"filter": "datum.p == 7"}],
   "mark": {"type": "arc", "filled": false, "stroke": "#000", "strokeWidth": 0.8, "strokeDash": [1,2.5]},
   "encoding": {"theta": {"datum": 0, "type": "quantitative"}, "theta2": {"datum": 360}, "radius": {"field": "v", "type": "quantitative", "stack": null}}},
  {"data": {"values": [{}]}, "mark": {"type": "arc", "filled": false, "stroke": "#000", "strokeWidth": 1.3},
   "encoding": {"theta": {"datum": 0, "type": "quantitative"}, "theta2": {"datum": 360}, "radius": {"datum": 15, "type": "quantitative"}}},
  {"data": {"values": [{}]}, "mark": {"type": "arc", "fill": "#fff", "stroke": "#a7801e", "strokeWidth": 1, "strokeDash": [2,1.5]},
   "encoding": {"theta": {"datum": 0, "type": "quantitative"}, "theta2": {"datum": 360}, "radius": {"datum": 0, "type": "quantitative"}}},
  {"data": {"name": "grid"}, "transform": [{"filter": "datum.p == 7"}], "mark": {"type": "text", "radiusOffset": 11, "fontSize": 10.5, "fill": "#333"},
   "encoding": {"theta": {"datum": 45, "type": "quantitative"}, "radius": {"field": "v", "type": "quantitative", "stack": null}, "text": {"field": "t"}}},
  {"data": {"values": [{}]}, "mark": {"type": "text", "radiusOffset": 5, "fontSize": 10.5, "fill": "#333"},
   "encoding": {"theta": {"datum": 270, "type": "quantitative"}, "radius": {"datum": 0, "type": "quantitative"}, "text": {"value": "0%"}}},
  {"data": {"name": "compass"}, "transform": [{"filter": "datum.d == 0"}], "mark": {"type": "text", "radiusOffset": 10, "fontSize": 15, "fill": "#000"},
   "encoding": {"theta": {"field": "d", "type": "quantitative", "stack": null}, "radius": {"datum": 15, "type": "quantitative"}, "text": {"field": "n"}}},
  {"data": {"name": "compass"}, "transform": [{"filter": "datum.d == 180"}], "mark": {"type": "text", "radiusOffset": 8.5, "fontSize": 15, "fill": "#000"},
   "encoding": {"theta": {"field": "d", "type": "quantitative", "stack": null}, "radius": {"datum": 15, "type": "quantitative"}, "text": {"field": "n"}}},
  {"data": {"name": "compass"}, "transform": [{"filter": "datum.d == 270"}], "mark": {"type": "text", "radiusOffset": 4, "align": "right", "fontSize": 15, "fill": "#000"},
   "encoding": {"theta": {"field": "d", "type": "quantitative", "stack": null}, "radius": {"datum": 15, "type": "quantitative"}, "text": {"field": "n"}}},
  {"data": {"name": "compass"}, "transform": [{"filter": "datum.d == 90"}], "mark": {"type": "text", "radiusOffset": 4, "align": "left", "fontSize": 15, "fill": "#000"},
   "encoding": {"theta": {"field": "d", "type": "quantitative", "stack": null}, "radius": {"datum": 15, "type": "quantitative"}, "text": {"field": "n"}}}
 ]},
{"width": 168, "height": 168, "title": {"text": "Event-3hrs 925 hPa", "frame": "group", "offset": 11},
 "layer": [
  {"data": {"name": "bars"}, "transform": [{"filter": "datum.p == 8"}, {"fold": ["c1","c2","c3","c4","c5"], "as": ["k","f"]}, {"filter": "datum.f > 0"}, {"bin": {"extent": [-5,355], "step": 10, "nice": false}, "field": "d", "as": ["d0","d1"]}, {"stack": "f", "groupby": ["d"], "sort": [{"field": "k", "order": "ascending"}], "as": ["r0","r1"]}],
   "mark": {"type": "arc", "fillOpacity": 0.75, "strokeWidth": 0.8},
   "encoding": {"theta": {"field": "d0", "type": "quantitative", "stack": null, "scale": {"domain": [0,360], "range": [0,6.283185307179586]}}, "theta2": {"field": "d1"},
    "radius": {"field": "r1", "type": "quantitative", "stack": null, "scale": {"type": "linear", "domain": [0,16], "range": [5,84], "zero": false, "nice": false}}, "radius2": {"field": "r0"},
    "fill": {"field": "k", "type": "nominal", "legend": null, "scale": {"domain": ["a1","a2","a3","a4","a5","a6","a7","a8","a9","b1","b2","b3","b4","b5","b6","c1","c2","c3","c4","c5"], "range": ["#fff8d5","#ffeda0","#fed977","#fdb04c","#f88c3c","#ee4a2a","#d9261c","#b5252a","#7d1429","#fff5c2","#fed977","#fdb04c","#f88c3c","#e8381d","#b5252a","#fff5c2","#fdc550","#f88c3c","#e8381d","#b5252a"]}},
    "stroke": {"field": "k", "type": "nominal", "legend": null, "scale": {"domain": ["a1","a2","a3","a4","a5","a6","a7","a8","a9","b1","b2","b3","b4","b5","b6","c1","c2","c3","c4","c5"], "range": ["#c9c08a","#c9b26a","#c8a445","#c8852a","#c4621e","#b83a1c","#a01414","#7e1a1e","#4e0c18","#c9b87a","#c8a445","#c8852a","#c4621e","#a8281a","#7e1a1e","#c9b87a","#c8952e","#c4621e","#a8281a","#7e1a1e"]}}}},
  {"data": {"name": "spokes"}, "transform": [{"bin": {"extent": [0,360], "step": 30, "nice": false}, "field": "g", "as": ["g0","g1"]}],
   "mark": {"type": "arc", "filled": false, "stroke": "#444", "strokeWidth": 0.8, "strokeDash": [1,2.5]},
   "encoding": {"theta": {"field": "g0", "type": "quantitative", "stack": null}, "theta2": {"field": "g1"}, "radius": {"datum": 16, "type": "quantitative"}, "radius2": {"datum": 0}}},
  {"data": {"name": "grid"}, "transform": [{"filter": "datum.p == 8"}],
   "mark": {"type": "arc", "filled": false, "stroke": "#000", "strokeWidth": 0.8, "strokeDash": [1,2.5]},
   "encoding": {"theta": {"datum": 0, "type": "quantitative"}, "theta2": {"datum": 360}, "radius": {"field": "v", "type": "quantitative", "stack": null}}},
  {"data": {"values": [{}]}, "mark": {"type": "arc", "filled": false, "stroke": "#000", "strokeWidth": 1.3},
   "encoding": {"theta": {"datum": 0, "type": "quantitative"}, "theta2": {"datum": 360}, "radius": {"datum": 16, "type": "quantitative"}}},
  {"data": {"values": [{}]}, "mark": {"type": "arc", "fill": "#fff", "stroke": "#a7801e", "strokeWidth": 1, "strokeDash": [2,1.5]},
   "encoding": {"theta": {"datum": 0, "type": "quantitative"}, "theta2": {"datum": 360}, "radius": {"datum": 0, "type": "quantitative"}}},
  {"data": {"name": "grid"}, "transform": [{"filter": "datum.p == 8"}], "mark": {"type": "text", "radiusOffset": 11, "fontSize": 10.5, "fill": "#333"},
   "encoding": {"theta": {"datum": 45, "type": "quantitative"}, "radius": {"field": "v", "type": "quantitative", "stack": null}, "text": {"field": "t"}}},
  {"data": {"values": [{}]}, "mark": {"type": "text", "radiusOffset": 5, "fontSize": 10.5, "fill": "#333"},
   "encoding": {"theta": {"datum": 270, "type": "quantitative"}, "radius": {"datum": 0, "type": "quantitative"}, "text": {"value": "0%"}}},
  {"data": {"name": "compass"}, "transform": [{"filter": "datum.d == 0"}], "mark": {"type": "text", "radiusOffset": 10, "fontSize": 15, "fill": "#000"},
   "encoding": {"theta": {"field": "d", "type": "quantitative", "stack": null}, "radius": {"datum": 16, "type": "quantitative"}, "text": {"field": "n"}}},
  {"data": {"name": "compass"}, "transform": [{"filter": "datum.d == 180"}], "mark": {"type": "text", "radiusOffset": 8.5, "fontSize": 15, "fill": "#000"},
   "encoding": {"theta": {"field": "d", "type": "quantitative", "stack": null}, "radius": {"datum": 16, "type": "quantitative"}, "text": {"field": "n"}}},
  {"data": {"name": "compass"}, "transform": [{"filter": "datum.d == 270"}], "mark": {"type": "text", "radiusOffset": 4, "align": "right", "fontSize": 15, "fill": "#000"},
   "encoding": {"theta": {"field": "d", "type": "quantitative", "stack": null}, "radius": {"datum": 16, "type": "quantitative"}, "text": {"field": "n"}}},
  {"data": {"name": "compass"}, "transform": [{"filter": "datum.d == 90"}], "mark": {"type": "text", "radiusOffset": 4, "align": "left", "fontSize": 15, "fill": "#000"},
   "encoding": {"theta": {"field": "d", "type": "quantitative", "stack": null}, "radius": {"datum": 16, "type": "quantitative"}, "text": {"field": "n"}}}
 ]},
{"width": 184, "height": 168, "title": {"text": "Event-6h 925 hPa", "frame": "group", "offset": 11},
 "layer": [
  {"data": {"name": "bars"}, "transform": [{"filter": "datum.p == 9"}, {"fold": ["c1","c2","c3","c4","c5"], "as": ["k","f"]}, {"filter": "datum.f > 0"}, {"bin": {"extent": [-5,355], "step": 10, "nice": false}, "field": "d", "as": ["d0","d1"]}, {"stack": "f", "groupby": ["d"], "sort": [{"field": "k", "order": "ascending"}], "as": ["r0","r1"]}],
   "mark": {"type": "arc", "fillOpacity": 0.75, "strokeWidth": 0.8},
   "encoding": {"theta": {"field": "d0", "type": "quantitative", "stack": null, "scale": {"domain": [0,360], "range": [0,6.283185307179586]}}, "theta2": {"field": "d1"},
    "radius": {"field": "r1", "type": "quantitative", "stack": null, "scale": {"type": "linear", "domain": [0,13], "range": [5,84], "zero": false, "nice": false}}, "radius2": {"field": "r0"},
    "fill": {"field": "k", "type": "nominal", "legend": null, "scale": {"domain": ["a1","a2","a3","a4","a5","a6","a7","a8","a9","b1","b2","b3","b4","b5","b6","c1","c2","c3","c4","c5"], "range": ["#fff8d5","#ffeda0","#fed977","#fdb04c","#f88c3c","#ee4a2a","#d9261c","#b5252a","#7d1429","#fff5c2","#fed977","#fdb04c","#f88c3c","#e8381d","#b5252a","#fff5c2","#fdc550","#f88c3c","#e8381d","#b5252a"]}},
    "stroke": {"field": "k", "type": "nominal", "legend": null, "scale": {"domain": ["a1","a2","a3","a4","a5","a6","a7","a8","a9","b1","b2","b3","b4","b5","b6","c1","c2","c3","c4","c5"], "range": ["#c9c08a","#c9b26a","#c8a445","#c8852a","#c4621e","#b83a1c","#a01414","#7e1a1e","#4e0c18","#c9b87a","#c8a445","#c8852a","#c4621e","#a8281a","#7e1a1e","#c9b87a","#c8952e","#c4621e","#a8281a","#7e1a1e"]}}}},
  {"data": {"name": "spokes"}, "transform": [{"bin": {"extent": [0,360], "step": 30, "nice": false}, "field": "g", "as": ["g0","g1"]}],
   "mark": {"type": "arc", "filled": false, "stroke": "#444", "strokeWidth": 0.8, "strokeDash": [1,2.5]},
   "encoding": {"theta": {"field": "g0", "type": "quantitative", "stack": null}, "theta2": {"field": "g1"}, "radius": {"datum": 13, "type": "quantitative"}, "radius2": {"datum": 0}}},
  {"data": {"name": "grid"}, "transform": [{"filter": "datum.p == 9"}],
   "mark": {"type": "arc", "filled": false, "stroke": "#000", "strokeWidth": 0.8, "strokeDash": [1,2.5]},
   "encoding": {"theta": {"datum": 0, "type": "quantitative"}, "theta2": {"datum": 360}, "radius": {"field": "v", "type": "quantitative", "stack": null}}},
  {"data": {"values": [{}]}, "mark": {"type": "arc", "filled": false, "stroke": "#000", "strokeWidth": 1.3},
   "encoding": {"theta": {"datum": 0, "type": "quantitative"}, "theta2": {"datum": 360}, "radius": {"datum": 13, "type": "quantitative"}}},
  {"data": {"values": [{}]}, "mark": {"type": "arc", "fill": "#fff", "stroke": "#a7801e", "strokeWidth": 1, "strokeDash": [2,1.5]},
   "encoding": {"theta": {"datum": 0, "type": "quantitative"}, "theta2": {"datum": 360}, "radius": {"datum": 0, "type": "quantitative"}}},
  {"data": {"name": "grid"}, "transform": [{"filter": "datum.p == 9"}], "mark": {"type": "text", "radiusOffset": 11, "fontSize": 10.5, "fill": "#333"},
   "encoding": {"theta": {"datum": 45, "type": "quantitative"}, "radius": {"field": "v", "type": "quantitative", "stack": null}, "text": {"field": "t"}}},
  {"data": {"values": [{}]}, "mark": {"type": "text", "radiusOffset": 5, "fontSize": 10.5, "fill": "#333"},
   "encoding": {"theta": {"datum": 270, "type": "quantitative"}, "radius": {"datum": 0, "type": "quantitative"}, "text": {"value": "0%"}}},
  {"data": {"name": "compass"}, "transform": [{"filter": "datum.d == 0"}], "mark": {"type": "text", "radiusOffset": 10, "fontSize": 15, "fill": "#000"},
   "encoding": {"theta": {"field": "d", "type": "quantitative", "stack": null}, "radius": {"datum": 13, "type": "quantitative"}, "text": {"field": "n"}}},
  {"data": {"name": "compass"}, "transform": [{"filter": "datum.d == 180"}], "mark": {"type": "text", "radiusOffset": 8.5, "fontSize": 15, "fill": "#000"},
   "encoding": {"theta": {"field": "d", "type": "quantitative", "stack": null}, "radius": {"datum": 13, "type": "quantitative"}, "text": {"field": "n"}}},
  {"data": {"name": "compass"}, "transform": [{"filter": "datum.d == 270"}], "mark": {"type": "text", "radiusOffset": 4, "align": "right", "fontSize": 15, "fill": "#000"},
   "encoding": {"theta": {"field": "d", "type": "quantitative", "stack": null}, "radius": {"datum": 13, "type": "quantitative"}, "text": {"field": "n"}}},
  {"data": {"name": "compass"}, "transform": [{"filter": "datum.d == 90"}], "mark": {"type": "text", "radiusOffset": 4, "align": "left", "fontSize": 15, "fill": "#000"},
   "encoding": {"theta": {"field": "d", "type": "quantitative", "stack": null}, "radius": {"datum": 13, "type": "quantitative"}, "text": {"field": "n"}}}
 ]}
]
}
